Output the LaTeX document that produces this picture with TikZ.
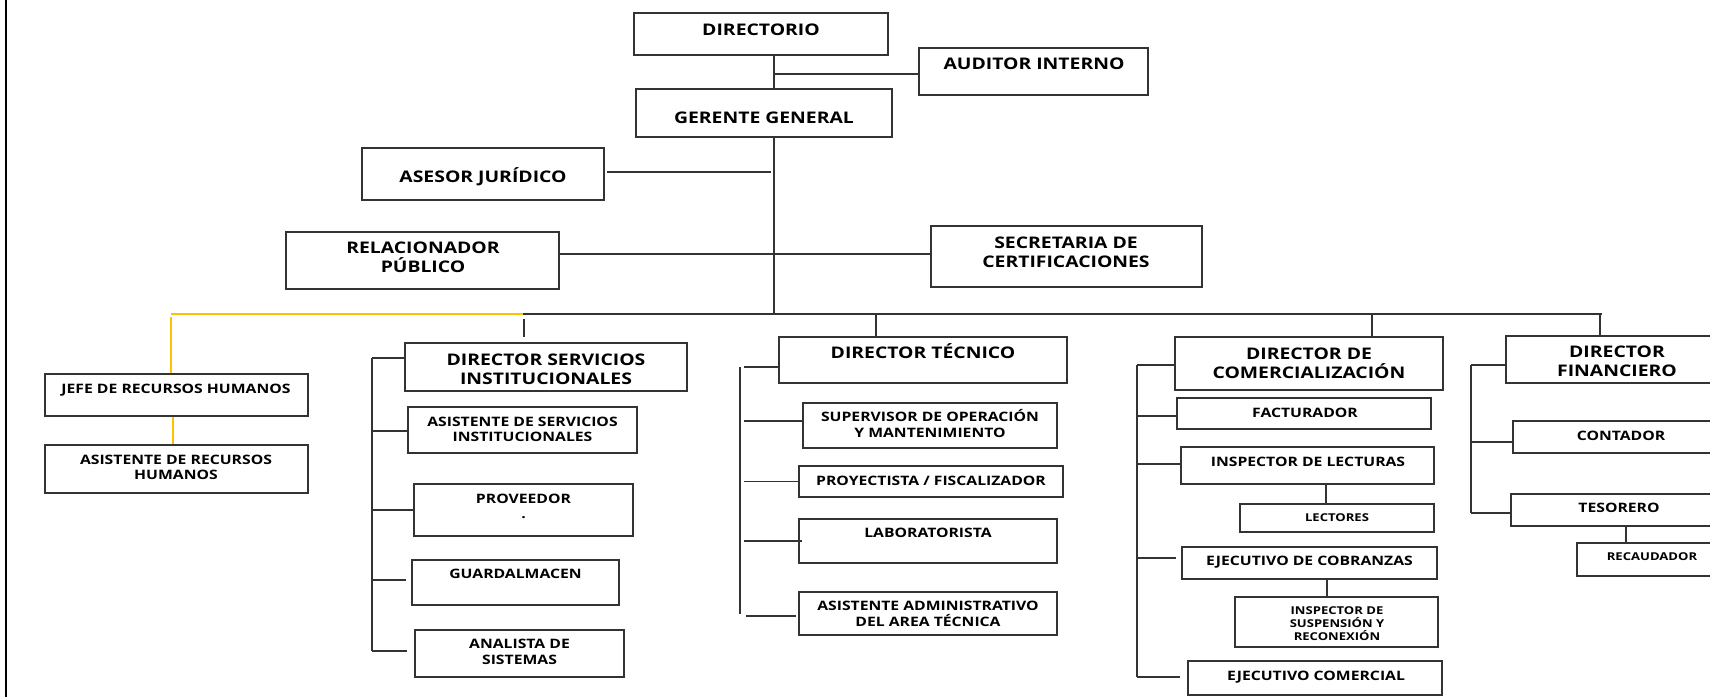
\documentclass[tikz,border=0pt]{standalone}
\usepackage{fontspec}
\setmainfont{Open Sans}[FakeStretch=1.21]
\usetikzlibrary{fit}
\definecolor{gold}{HTML}{FFC000}
\definecolor{lc}{HTML}{333333}
\newcommand\cl[1]{\raisebox{0pt}[\fontcharht\font`T][0pt]{#1}}
\newcommand\bx[5]{\node[box, fit={(#2,#3) (#4,#5)}] (#1) {};}
\newcommand\tx[5]{\node[tl,#1] (#2) at (#3,#4) {#5};}
\tikzset{
  box/.style={draw=lc, line width=1.6pt, inner sep=0pt, rectangle},
  ln/.style={draw=lc, line width=1.4pt},
  yl/.style={draw=gold, line width=1.6pt},
  tl/.style={inner sep=0pt, align=center, anchor=center},
  L/.style={font=\fontsize{16}{19}\selectfont\bfseries},
  M/.style={font=\fontsize{13}{15.5}\selectfont\bfseries},
  S/.style={font=\fontsize{10.8}{13}\selectfont\bfseries}
}
\begin{document}
\begin{tikzpicture}[x=1pt,y=-1pt]
\fill[white] (0,0) rectangle (1710,697);
\clip (0,0) rectangle (1710,697);
\draw[line width=2pt, black] (6,0) -- (6,697);

% boxes
\bx{dir}{634}{13}{888}{55}
\bx{aud}{919}{48}{1148}{95}
\bx{gg}{636}{89}{892}{137}
\bx{ase}{362}{148}{604}{200}
\bx{rel}{286}{232}{559}{289}
\bx{sec}{931}{226}{1202}{287}
\bx{jefe}{45}{374}{308}{416}
\bx{arh}{45}{445}{308}{493}
\bx{dsi}{405}{343}{687}{391}
\bx{asv}{408}{407}{637}{453}
\bx{prov}{414}{484}{633}{536}
\bx{gua}{412}{560}{619}{605}
\bx{ana}{415}{630}{624}{677}
\bx{dt}{779}{337}{1067}{383}
\bx{sup}{803}{403}{1057}{448}
\bx{pro}{799}{466}{1063}{497}
\bx{lab}{799}{519}{1057}{563}
\bx{aad}{799}{592}{1057}{635}
\bx{dc}{1175}{337}{1443}{390}
\bx{fac}{1177}{398}{1431}{429}
\bx{il}{1181}{447}{1434}{484}
\bx{lec}{1240}{504}{1434}{532}
\bx{ec}{1182}{547}{1437}{579}
\bx{isr}{1235}{597}{1438}{647}
\bx{ecom}{1188}{661}{1442}{695}
\bx{df}{1506}{336}{1730}{383}
\bx{cont}{1513}{421}{1730}{453}
\bx{tes}{1511}{494}{1730}{526}
\bx{rec}{1577}{543}{1730}{576}

% texts
\tx{L}{dir-t}{761}{30}{\cl{DIRECTORIO}}
\tx{L}{aud-t}{1034}{64}{\cl{AUDITOR INTERNO}}
\tx{L}{gg-t}{764}{118}{\cl{GERENTE GENERAL}}
\tx{L}{ase-t}{483}{177}{\cl{ASESOR JURÍDICO}}
\tx{L}{rel-t}{423}{257.5}{\cl{RELACIONADOR}\\\cl{PÚBLICO}}
\tx{L}{sec-t}{1066}{252.5}{\cl{SECRETARIA DE}\\\cl{CERTIFICACIONES}}
\tx{L}{dsi-t}{546}{369.5}{\cl{DIRECTOR SERVICIOS}\\\cl{INSTITUCIONALES}}
\tx{L}{dt-t}{923}{353}{\cl{DIRECTOR TÉCNICO}}
\tx{L}{dc-t}{1309}{363.5}{\cl{DIRECTOR DE}\\\cl{COMERCIALIZACIÓN}}
\tx{L}{df-t}{1617}{361.5}{\cl{DIRECTOR}\\\cl{FINANCIERO}}

\tx{M}{jefe-t}{176}{389}{\cl{JEFE DE RECURSOS HUMANOS}}
\tx{M}{arh-t}{176}{467.5}{\cl{ASISTENTE DE RECURSOS}\\\cl{HUMANOS}}
\tx{M}{asv-t}{522.5}{429.5}{\cl{ASISTENTE DE SERVICIOS}\\\cl{INSTITUCIONALES}}
\tx{M}{prov-t}{523.5}{506.5}{\cl{PROVEEDOR}\\\cl{.}}
\tx{M}{gua-t}{515.5}{574}{\cl{GUARDALMACEN}}
\tx{M}{ana-t}{519.5}{652}{\cl{ANALISTA DE}\\\cl{SISTEMAS}}
\tx{M}{sup-t}{930}{425}{\cl{SUPERVISOR DE OPERACIÓN}\\\cl{Y MANTENIMIENTO}}
\tx{M}{pro-t}{931}{481}{\cl{PROYECTISTA / FISCALIZADOR}}
\tx{M}{lab-t}{928}{533}{\cl{LABORATORISTA}}
\tx{M}{aad-t}{928}{614}{\cl{ASISTENTE ADMINISTRATIVO}\\\cl{DEL AREA TÉCNICA}}
\tx{M}{fac-t}{1305}{413}{\cl{FACTURADOR}}
\tx{M}{il-t}{1308}{462}{\cl{INSPECTOR DE LECTURAS}}
\tx{M}{ec-t}{1309.5}{561}{\cl{EJECUTIVO DE COBRANZAS}}
\tx{M}{ecom-t}{1316}{676}{\cl{EJECUTIVO COMERCIAL}}
\tx{M}{cont-t}{1621}{436}{\cl{CONTADOR}}
\tx{M}{tes-t}{1619}{508}{\cl{TESORERO}}

\tx{S}{lec-t}{1337}{518}{\cl{LECTORES}}
\tx{S}{isr-t}{1337}{624}{\cl{INSPECTOR DE}\\\cl{SUSPENSIÓN Y}\\\cl{RECONEXIÓN}}
\tx{S}{rec-t}{1652}{557}{\cl{RECAUDADOR}}

% top connectors
\coordinate (jA) at (774,74);
\coordinate (jR) at (774,254);
\coordinate (jS) at (774,172);
\coordinate (bus) at (774,314);
\draw[ln] (dir.south -| jA) -- (gg.north -| jA);
\draw[ln] (jA) -- (aud.west |- jA);
\draw[ln] (gg.south -| jA) -- (bus);
\draw[ln] ([xshift=2pt]ase.east |- jS) -- ([xshift=-3pt]jS);
\draw[ln] (rel.east |- jR) -- (sec.west |- jR);

% bus
\coordinate (busL) at (171,314);
\coordinate (busM) at (523,314);
\coordinate (busR) at (1602,314);
\draw[yl] (busL) -- (busM);
\draw[ln] (busM) -- (busR);
\draw[yl] ([yshift=-3pt]busL) -- (jefe.north -| busL);
\coordinate (jH) at (173,430);
\draw[yl] (jefe.south -| jH) -- (arh.north -| jH);

% drops
\coordinate (d1) at (524,314);
\coordinate (d2) at (876,314);
\coordinate (d3) at (1372,314);
\coordinate (d4) at (1600,314);
\draw[ln] ([yshift=-5pt]d1) -- ([yshift=5pt]dsi.north -| d1);
\draw[ln] (d2) -- (dt.north -| d2);
\draw[ln] (d3) -- (dc.north -| d3);
\draw[ln] (d4) -- (df.north -| d4);

% servicios bracket
\coordinate (sTop) at (372,358);
\coordinate (sBot) at (372,651);
\draw[ln] (sTop) -- (sBot);
\draw[ln] (sTop) -- (dsi.west |- sTop);
\draw[ln] (sTop |- 0,431) -- (asv.west |- 0,431);
\draw[ln] (sTop |- prov.west) -- (prov.west);
\draw[ln] (sTop |- 0,580) -- ([xshift=-5pt]gua.west |- 0,580);
\draw[ln] (sBot) -- ([xshift=-7pt]ana.west |- sBot);

% tecnico bracket
\coordinate (tTop) at (740,367);
\coordinate (tBot) at (740,614);
\draw[ln] (tTop) -- (tBot);
\draw[ln] ([xshift=4pt]tTop) -- (dt.west |- tTop);
\draw[ln] ([xshift=4pt]tTop |- 0,421) -- (sup.west |- 0,421);
\draw[ln] ([xshift=4pt]tTop |- pro.west) -- ([xshift=2pt]pro.west);
\draw[ln] ([xshift=4pt]tTop |- lab.west) -- ([xshift=4pt]lab.west);
\draw[ln] ([xshift=6pt]tTop |- 0,616) -- ([xshift=-2pt]aad.west |- 0,616);

% comercializacion bracket
\coordinate (cTop) at (1137,365);
\coordinate (cBot) at (1137,677);
\draw[ln] (cTop) -- (cBot);
\draw[ln] (cTop) -- (dc.west |- cTop);
\draw[ln] (cTop |- 0,416) -- (fac.west |- 0,416);
\draw[ln] (cTop |- 0,464) -- (il.west |- 0,464);
\draw[ln] (cTop |- 0,558) -- ([xshift=-5pt]ec.west |- 0,558);
\draw[ln] (cBot) -- ([xshift=-7pt]ecom.west |- cBot);
\coordinate (vL) at (1326,500);
\draw[ln] (il.south -| vL) -- (lec.north -| vL);
\coordinate (vC) at (1327,590);
\draw[ln] (ec.south -| vC) -- (isr.north -| vC);

% financiero bracket
\coordinate (fTop) at (1471,365);
\coordinate (fBot) at (1471,513);
\draw[ln] (fTop) -- (fBot);
\draw[ln] (fTop) -- (df.west |- fTop);
\draw[ln] (fTop |- 0,442) -- (cont.west |- 0,442);
\draw[ln] (fBot) -- (tes.west |- fBot);
\coordinate (vT) at (1626,535);
\draw[ln] (tes.south -| vT) -- (rec.north -| vT);
\end{tikzpicture}
\end{document}
